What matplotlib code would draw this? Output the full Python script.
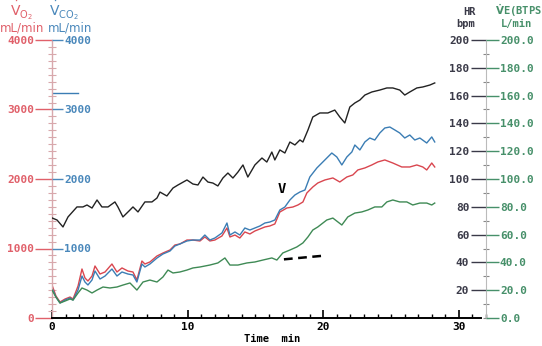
import matplotlib
matplotlib.use("Agg")
import matplotlib.pyplot as plt
from matplotlib.ticker import MultipleLocator, FixedLocator, FormatStrFormatter

plt.rcParams['mathtext.default'] = 'regular'

# heart rate (bpm)
hr_t = [0.0, 0.37, 0.81, 1.18, 1.84, 2.28, 2.58, 2.95, 3.32, 3.68, 4.13, 4.64, 4.86, 5.23,
        5.75, 5.97, 6.34, 6.85, 7.37, 7.74, 7.96, 8.47, 8.92, 9.29, 9.95, 10.39, 10.76,
        11.13, 11.50, 11.86, 12.23, 12.60, 12.97, 13.34, 13.71, 14.08, 14.44, 14.96, 15.48,
        15.84, 16.21, 16.43, 16.80, 17.17, 17.54, 17.91, 18.28, 18.50, 18.87, 19.23, 19.75,
        20.34, 20.85, 21.22, 21.59, 21.96, 22.33, 22.70, 23.07, 23.58, 24.17, 24.69, 25.13,
        25.64, 26.01, 26.38, 26.90, 27.34, 27.86, 28.22]
hr = [72, 70.5, 65.5, 72.7, 79.9, 79.9, 81.3, 79.1, 84.9, 79.9, 79.9, 83.5, 79.9, 72.7,
      77.7, 79.9, 76.3, 83.5, 83.5, 86.3, 90.6, 87.8, 93.5, 95.7, 99.3, 96.4, 95.7,
      101.4, 97.8, 97.1, 95.0, 100.7, 104.3, 100.7, 105.0, 110.1, 101.4, 110.1, 115.1,
      112.2, 119.4, 113.7, 120.9, 118.7, 126.6, 124.5, 128.1, 126.6, 135.2, 144.6, 147.5,
      147.5, 149.6, 144.6, 140.3, 151.8, 154.7, 156.8, 160.4, 162.6, 164.0, 165.5, 165.5,
      164.0, 160.4, 162.6, 165.5, 166.2, 167.6, 169.1]

# VCO2 (mL/min)
gas_t = [0.0, 0.29, 0.59, 0.96, 1.33, 1.55, 1.92, 2.21, 2.43, 2.65, 2.95, 3.17, 3.54, 3.91,
         4.42, 4.79, 5.16, 5.60, 5.97, 6.26, 6.63, 6.85, 7.22, 7.74, 8.18, 8.70, 9.06,
         9.43, 9.95, 10.39, 10.91, 11.27, 11.64, 12.01, 12.53, 12.90, 13.12, 13.49, 13.85,
         14.22, 14.59, 14.96, 15.33, 15.70, 16.06, 16.43, 16.80, 17.17, 17.54, 17.91,
         18.28, 18.65, 19.01, 19.53, 20.12, 20.63, 21.00, 21.37, 21.74, 22.11, 22.33,
         22.70, 23.07, 23.43, 23.80, 24.17, 24.54, 24.91, 25.28, 25.64, 26.01, 26.38,
         26.75, 27.12, 27.63, 28.00, 28.22]
vco2 = [432, 302, 216, 259, 288, 259, 403, 604, 518, 475, 547, 676, 561, 604,
        705, 604, 662, 633, 619, 518, 777, 734, 777, 863, 921, 964, 1036,
        1065, 1108, 1122, 1122, 1194, 1122, 1151, 1223, 1367, 1194, 1238, 1194,
        1295, 1266, 1295, 1324, 1367, 1381, 1410, 1554, 1597, 1698, 1770,
        1813, 1842, 2029, 2159, 2274, 2374, 2317, 2202, 2317, 2389, 2489,
        2418, 2533, 2590, 2561, 2662, 2734, 2748, 2705, 2662, 2590, 2633,
        2561, 2590, 2518, 2605, 2533]

# VO2 (mL/min)
vo2_t = [0.0, 0.29, 0.59, 0.96, 1.33, 1.55, 1.92, 2.21, 2.43, 2.65, 2.95, 3.17, 3.54, 3.91,
         4.42, 4.79, 5.16, 5.60, 5.97, 6.26, 6.63, 6.85, 7.22, 7.74, 8.18, 8.70, 9.06,
         9.43, 9.95, 10.39, 10.91, 11.27, 11.64, 12.01, 12.53, 12.90, 13.12, 13.49, 13.85,
         14.22, 14.59, 14.96, 15.33, 15.70, 16.06, 16.43, 16.80, 17.32, 17.76, 18.13,
         18.50, 18.79, 19.23, 19.60, 20.12, 20.71, 21.22, 21.74, 22.18, 22.55, 23.07,
         23.58, 24.02, 24.54, 25.13, 25.79, 26.38, 26.90, 27.34, 27.63, 28.00, 28.22]
vo2 = [475, 317, 230, 273, 302, 273, 460, 705, 576, 532, 604, 748, 633, 662,
       777, 662, 720, 676, 662, 547, 820, 777, 806, 892, 935, 979, 1050,
       1065, 1122, 1122, 1108, 1166, 1108, 1122, 1180, 1295, 1166, 1194, 1151,
       1238, 1209, 1252, 1281, 1310, 1324, 1353, 1525, 1583, 1597, 1626,
       1669, 1799, 1885, 1943, 1986, 2015, 1957, 2029, 2058, 2130, 2159,
       2202, 2245, 2274, 2230, 2173, 2173, 2202, 2173, 2130, 2230, 2173]

# minute ventilation VE (L/min)
ve_t = [0.0, 0.29, 0.59, 0.96, 1.33, 1.55, 1.92, 2.21, 2.58, 2.95, 3.32, 3.76, 4.27, 4.79,
        5.23, 5.75, 6.26, 6.71, 7.22, 7.74, 8.18, 8.55, 8.92, 9.43, 9.95, 10.39, 10.91,
        11.64, 12.23, 12.75, 13.12, 13.71, 14.37, 14.96, 15.55, 16.21, 16.58, 17.02,
        17.54, 18.05, 18.50, 18.87, 19.23, 19.60, 20.26, 20.71, 21.37, 21.81, 22.33,
        22.84, 23.29, 23.80, 24.32, 24.69, 25.13, 25.64, 26.16, 26.60, 27.12, 27.63,
        28.00, 28.22]
ve = [20.1, 15.1, 10.8, 12.2, 13.7, 12.9, 18.0, 21.6, 20.1, 18.0, 20.1, 22.3, 21.6, 22.3,
      23.7, 25.2, 20.1, 25.9, 27.3, 25.9, 29.5, 34.5, 32.4, 33.1, 34.5, 36.0, 36.7,
      38.1, 39.6, 43.2, 38.1, 38.1, 39.6, 40.3, 41.7, 43.2, 41.7, 46.8,
      48.9, 51.1, 54.0, 58.3, 63.3, 65.5, 70.5, 71.9, 66.9, 72.7, 75.5,
      76.3, 77.7, 79.9, 79.9, 83.5, 84.9, 83.5, 83.5, 81.3, 82.7, 82.7,
      81.3, 82.7]

# dashed VE extrapolation and markers
dash_t = [17.1, 20.0]
dash_ve = [42.2, 44.8]
vt_t, vt_val = 16.95, 1850
vco2_mark = 3240

RED = '#d9464f'
BLUE = '#3b7db4'
GREEN = '#3f8a55'
DARK = '#222222'
RED_TXT = '#e0606a'
BLUE_TXT = '#4a88bb'
GREEN_TXT = '#47906a'
HR_TXT = '#3a3a48'
MONO = 'DejaVu Sans Mono'


def bold_mono(labels):
    for lab in labels:
        lab.set_fontfamily(MONO)
        lab.set_fontweight('bold')


fig = plt.figure(figsize=(5.42, 3.46), dpi=100)
ax = fig.add_axes([52 / 542, 28 / 346, 434 / 542, 278 / 346])
ax.set_xlim(0, 32)
ax.set_ylim(0, 4000)
ax.patch.set_alpha(0)

for s in ['top', 'right']:
    ax.spines[s].set_visible(False)
ax.spines['bottom'].set_bounds(0, 31.6)
ax.spines['bottom'].set_linewidth(1.4)
ax.spines['left'].set_color('#d8a8ac')
ax.spines['left'].set_linewidth(1.0)

# x axis
ax.xaxis.set_major_locator(FixedLocator([0, 10, 20, 30]))
ax.xaxis.set_minor_locator(MultipleLocator(1))
ax.tick_params(axis='x', which='major', direction='in', length=6, width=1.2, pad=3,
               labelsize=8)
ax.tick_params(axis='x', which='minor', direction='in', length=3, width=1.0)
bold_mono(ax.get_xticklabels())

# left VO2 axis (red labels)
ax.yaxis.set_major_locator(MultipleLocator(1000))
ax.yaxis.set_minor_locator(MultipleLocator(100))
ax.tick_params(axis='y', which='major', direction='out', length=12, width=1.0,
               color=RED_TXT, labelcolor=RED_TXT, labelsize=8, pad=1)
ax.tick_params(axis='y', which='minor', direction='inout', length=6, width=0.8,
               color='#d8a8ac')
bold_mono(ax.get_yticklabels())

# VCO2 labels (blue) to the right of the left axis
axb = ax.twinx()
axb.set_ylim(0, 4000)
axb.spines['right'].set_position(('axes', 0))
for s in ['top', 'left', 'bottom', 'right']:
    axb.spines[s].set_visible(False)
axb.yaxis.set_major_locator(FixedLocator([1000, 2000, 3000, 4000]))
axb.tick_params(axis='y', direction='out', length=8, width=1.0, color=BLUE_TXT,
                labelcolor=BLUE_TXT, labelsize=8, pad=1)
bold_mono(axb.get_yticklabels())

# HR axis (labels left of right axis)
axh = ax.twinx()
axh.set_ylim(0, 200)
for s in ['top', 'right', 'bottom']:
    axh.spines[s].set_visible(False)
axh.spines['left'].set_position(('axes', 1))
axh.spines['left'].set_color('#bbbbbb')
axh.yaxis.set_ticks_position('left')
axh.set_yticks(list(range(20, 201, 20)))
axh.yaxis.set_minor_locator(MultipleLocator(10))
axh.tick_params(axis='y', which='major', direction='out', length=11, width=1.0,
                color=HR_TXT, labelcolor=HR_TXT, labelsize=8, pad=1)
axh.tick_params(axis='y', which='minor', direction='inout', length=5, width=0.8,
                color='#888888')
bold_mono(axh.get_yticklabels())

# VE axis (labels right of right axis)
axv = ax.twinx()
axv.set_ylim(0, 200)
for s in ['top', 'left', 'bottom', 'right']:
    axv.spines[s].set_visible(False)
axv.yaxis.set_major_locator(MultipleLocator(20))
axv.yaxis.set_major_formatter(FormatStrFormatter('%.1f'))
axv.tick_params(axis='y', direction='out', length=9, width=1.0, color=GREEN_TXT,
                labelcolor=GREEN_TXT, labelsize=8, pad=1)
bold_mono(axv.get_yticklabels())

# data lines
axh.plot(hr_t, hr, color=DARK, lw=1.0)
axv.plot(ve_t, ve, color=GREEN, lw=1.0)
ax.plot(vo2_t, vo2, color=RED, lw=1.0)
ax.plot(gas_t, vco2, color=BLUE, lw=1.0)
axv.plot(dash_t, dash_ve, color='black', lw=1.8, ls=(0, (3.5, 2.2)))
ax.axhline(vco2_mark, xmin=0, xmax=1.9 / 32, color=BLUE, lw=1.0)
ax.text(vt_t, vt_val, 'V', color='black', fontsize=10, fontweight='bold',
        fontfamily=MONO, ha='center', va='center')


def header(x, y, txt, color, size=10, **kw):
    fig.text(x / 542, 1 - y / 346, txt, color=color, fontsize=size, ha='center',
             va='center', **kw)


# left headers
header(21, 11, r'$\dot{V}_{O_2}$', RED_TXT, 10)
header(22, 28, 'mL/min', RED_TXT, 8.5)
header(64, 11, r'$\dot{V}_{CO_2}$', BLUE_TXT, 10)
header(70, 28, 'mL/min', BLUE_TXT, 8.5)

# right headers
header(470, 12, 'HR', HR_TXT, 7.5, fontfamily=MONO, fontweight='bold')
header(466, 24, 'bpm', HR_TXT, 7.5, fontfamily=MONO, fontweight='bold')
header(518, 11, r'$\dot{\mathbf{V}}$' + 'E(BTPS', GREEN_TXT, 7.5, fontfamily=MONO,
       fontweight='bold')
header(516, 24, 'L/min', GREEN_TXT, 7.5, fontfamily=MONO, fontweight='bold')

header(272, 339, 'Time  min', 'black', 7.5, fontfamily=MONO, fontweight='bold')

fig.savefig('out.png', dpi=100)
